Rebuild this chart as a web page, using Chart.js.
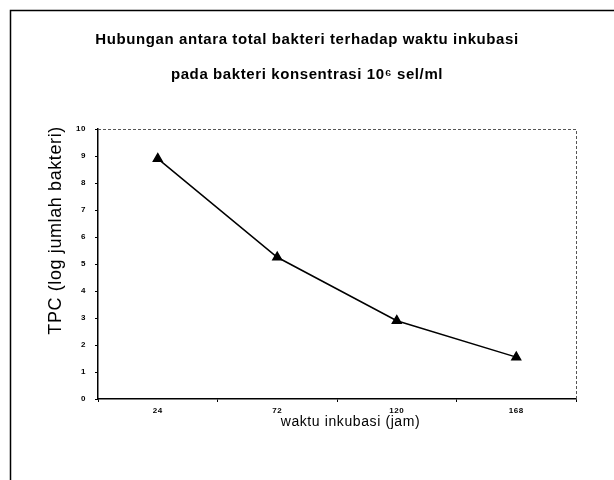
<!DOCTYPE html>
<html>
<head>
<meta charset="utf-8">
<script src="https://cdn.jsdelivr.net/npm/chart.js@4/dist/chart.umd.min.js"></script>
<style>
html,body{margin:0;padding:0;background:#fff;}
#wrap{width:614px;height:480px;position:relative;}
</style>
</head>
<body>
<div id="wrap"><canvas id="c" width="614" height="480"></canvas></div>
<script>
const categories = ['24', '72', '120', '168'];
const tpcValues = [8.9, 5.25, 2.9, 1.55];
const yTicks = [0, 1, 2, 3, 4, 5, 6, 7, 8, 9, 10];
const titleLines = ['Hubungan antara total bakteri terhadap waktu inkubasi', 'pada bakteri konsentrasi 10\u2076 sel/ml'];
const xTitle = 'waktu inkubasi (jam)';
const yTitle = 'TPC (log jumlah bakteri)';

const FONT = '"Liberation Sans", Arial, sans-serif';

const framePlugin = {
  id: 'frame',
  beforeDraw(chart) {
    const ctx = chart.ctx;
    ctx.letterSpacing = '0.6px';
    ctx.save();
    ctx.strokeStyle = '#000';
    ctx.lineWidth = 1.5;
    ctx.beginPath();
    ctx.moveTo(10.5, chart.height);
    ctx.lineTo(10.5, 10.5);
    ctx.lineTo(chart.width, 10.5);
    ctx.stroke();
    ctx.restore();
  },
  afterDraw(chart) {
    const ctx = chart.ctx;
    const a = chart.chartArea;
    ctx.save();
    ctx.strokeStyle = '#555';
    ctx.lineWidth = 1;
    ctx.setLineDash([3, 2]);
    ctx.beginPath();
    ctx.moveTo(a.left, a.top + 0.5);
    ctx.lineTo(a.right + 0.5, a.top + 0.5);
    ctx.lineTo(a.right + 0.5, a.bottom);
    ctx.stroke();
    ctx.restore();
  }
};

new Chart(document.getElementById('c'), {
  type: 'line',
  data: {
    labels: categories,
    datasets: [{
      data: tpcValues,
      borderColor: '#000',
      backgroundColor: '#000',
      borderWidth: 1.5,
      pointStyle: 'triangle',
      pointRadius: 5,
      pointHoverRadius: 5,
      pointBackgroundColor: '#000',
      pointBorderColor: '#000',
      tension: 0
    }]
  },
  plugins: [framePlugin],
  options: {
    responsive: false,
    animation: false,
    devicePixelRatio: 1,
    layout: { padding: { left: 38, right: 38, top: 10, bottom: 0 } },
    plugins: {
      legend: { display: false },
      tooltip: { enabled: false },
      title: {
        display: true,
        text: titleLines,
        color: '#000',
        font: { family: FONT, size: 15, weight: 'bold', lineHeight: '35px' },
        padding: { top: 12, bottom: 37 }
      }
    },
    scales: {
      x: {
        type: 'category',
        offset: true,
        grid: { offset: true, drawOnChartArea: false, color: '#000', tickLength: 3 },
        border: { display: true, color: '#000', width: 1.5 },
        ticks: { color: '#000', font: { family: FONT, size: 8, weight: 'bold' }, padding: 4, maxRotation: 0 },
        title: {
          display: true, text: '      ' + xTitle, color: '#000',
          font: { family: FONT, size: 14 },
          padding: { top: 0, bottom: 49 }
        },
        afterFit(s) { s.height = 81; }
      },
      y: {
        min: 0, max: 10,
        afterBuildTicks(s) { s.ticks = yTicks.map(v => ({ value: v })); },
        grid: { drawOnChartArea: false, color: '#000', tickLength: 3 },
        border: { display: true, color: '#000', width: 1.5 },
        ticks: { color: '#000', font: { family: FONT, size: 8, weight: 'bold' }, padding: 9 },
        title: {
          display: true,
          text: '            ' + yTitle,
          color: '#000',
          font: { family: FONT, size: 18 },
          padding: { top: 7, bottom: 0 }
        },
        afterFit(s) { s.width = 60; }
      }
    }
  }
});
</script>
</body>
</html>
